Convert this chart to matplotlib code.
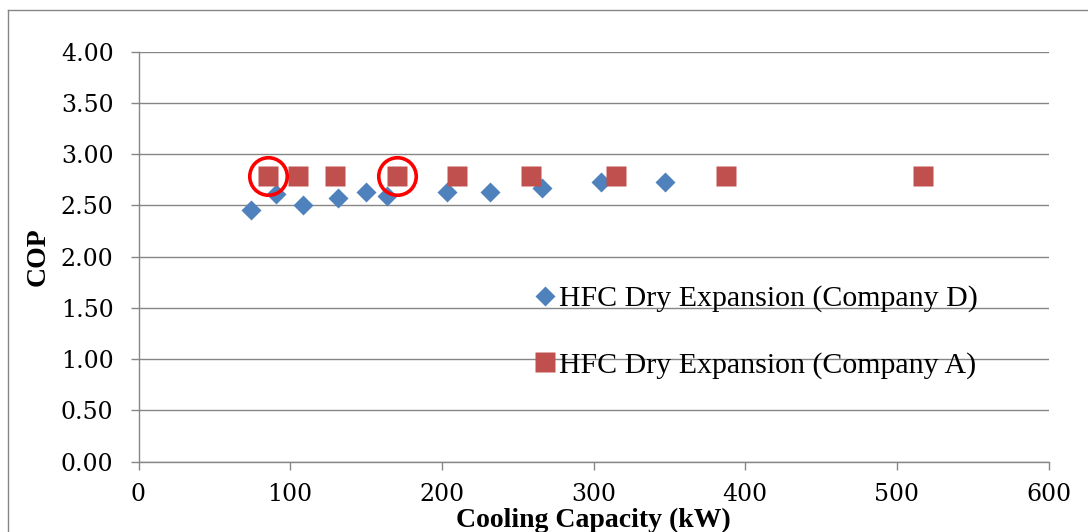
import matplotlib
matplotlib.use("Agg")
import matplotlib.pyplot as plt
from matplotlib.lines import Line2D

# values
company_d_kw = [74, 90.5, 108.5, 131.5, 150, 164, 203.5, 232, 266, 305, 347]
company_d_cop = [2.46, 2.61, 2.50, 2.57, 2.63, 2.59, 2.63, 2.63, 2.67, 2.73, 2.73]
company_a_kw = [85.5, 105, 129.5, 170.5, 210, 258.5, 315, 387.5, 517]
company_a_cop = [2.79, 2.79, 2.79, 2.79, 2.79, 2.79, 2.79, 2.79, 2.79]
circled_kw = [85.5, 170.5]
circled_cop = [2.79, 2.79]

x_ticks = [0, 100, 200, 300, 400, 500, 600]
y_ticks = [0, 0.5, 1.0, 1.5, 2.0, 2.5, 3.0, 3.5, 4.0]

BLUE = "#4F81BD"
RED = "#C0504D"
GREY = "#868686"

plt.rcParams["font.family"] = ["DejaVu Serif"]

W, H = 1088, 532
fig = plt.figure(figsize=(W / 100, H / 100), dpi=100)
ax = fig.add_axes([138.5 / W, 1 - 461.7 / H, 910 / W, 410 / H])

ax.plot(company_d_kw, company_d_cop, linestyle="none", marker="D", ms=10.2,
        color=BLUE, mec="none", label="HFC Dry Expansion (Company D)", zorder=3)
ax.plot(company_a_kw, company_a_cop, linestyle="none", marker="s", ms=14.4,
        color=RED, mec="none", label="HFC Dry Expansion (Company A)", zorder=4)
ax.plot(circled_kw, circled_cop, linestyle="none", marker="o", ms=27,
        mfc="none", mec="#FF0000", mew=2.6, zorder=5)

ax.set_xlim(0, 600)
ax.set_ylim(0, 4)
ax.set_xticks(x_ticks)
ax.set_xticklabels([str(v) for v in x_ticks], fontfamily="DejaVu Serif", fontsize=17)
ax.set_yticks(y_ticks)
ax.set_yticklabels([f"{v:.2f}" for v in y_ticks], fontfamily="DejaVu Serif", fontsize=17)

ax.grid(axis="y", color=GREY, linewidth=1.0)
ax.set_axisbelow(True)
for side in ("top", "right"):
    ax.spines[side].set_visible(False)
for side in ("left", "bottom"):
    ax.spines[side].set_color(GREY)
    ax.spines[side].set_linewidth(1.0)

ax.tick_params(axis="both", direction="out", length=6, width=1.0, color=GREY)
ax.tick_params(axis="y", pad=12)
ax.tick_params(axis="x", pad=9)

ax.set_xlabel("Cooling Capacity (kW)", fontfamily="Liberation Serif",
              fontweight="bold", fontsize=20, va="center")
ax.xaxis.set_label_coords(0.5, -0.143)
ax.set_ylabel("COP", fontfamily="Liberation Serif", fontweight="bold",
              fontsize=20, va="center")
ax.yaxis.set_label_coords(-0.110, 0.5)

ax.legend(loc="center left", bbox_to_anchor=(0.437, 0.316), frameon=False,
          prop={"family": "Liberation Serif", "size": 21.5},
          handlelength=0.58, handletextpad=0.2, labelspacing=1.33,
          borderpad=0, borderaxespad=0, numpoints=1)

# outer chart border (only left and top edges fall inside the crop)
fig.add_artist(Line2D([8.3 / W, 8.3 / W], [0, 1 - 10 / H], color=GREY, lw=1.0))
fig.add_artist(Line2D([8.3 / W, 1], [1 - 10 / H, 1 - 10 / H], color=GREY, lw=1.0))

fig.savefig("out.png", dpi=100)
